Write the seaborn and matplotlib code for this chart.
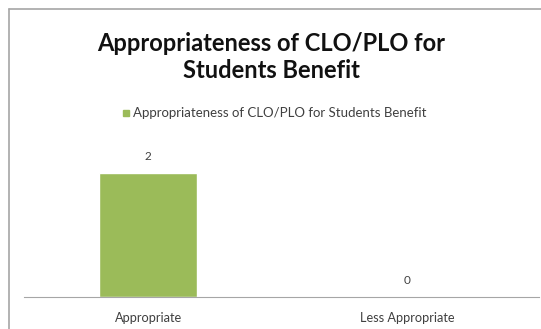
import matplotlib
matplotlib.use("Agg")
import matplotlib.pyplot as plt
import seaborn as sns
import pandas as pd
from matplotlib.lines import Line2D

# data
categories = ["Appropriate", "Less Appropriate"]
counts = [2, 0]
series_name = "Appropriateness of CLO/PLO for Students Benefit"
title = "Appropriateness of CLO/PLO for\nStudents Benefit"

sns.set_theme(style="white")
plt.rcParams['font.family'] = ['Lato', 'DejaVu Sans']

df = pd.DataFrame({"category": categories, "count": counts, "series": series_name})

fig = plt.figure(figsize=(5.41, 3.29), dpi=100)
ax = fig.add_axes([24 / 541, 32 / 329, 515 / 541, 155 / 329])

sns.barplot(data=df, x="category", y="count", hue="series", palette=["#9BBB59"],
            saturation=1, width=0.377, ax=ax, legend=False)

ax.set_xlim(-0.48, 1.51)
ax.set_ylim(0, 2.5)
ax.set_xlabel("")
ax.set_ylabel("")
ax.set_yticks([])
ax.tick_params(axis="x", length=0, pad=11, labelsize=9.2, labelcolor="#404040")
for s in ["top", "right", "left"]:
    ax.spines[s].set_visible(False)
ax.spines["bottom"].set_color("#a6a6a6")
ax.spines["bottom"].set_linewidth(0.8)

# value labels
for i, v in enumerate(counts):
    ax.annotate(str(v), (i, v), xytext=(0, 8), textcoords="offset points",
                ha="center", va="bottom", fontsize=8.5, color="#404040")

# title and legend
fig.text(271 / 541, 1 - 57 / 329, title, ha="center", va="center",
         fontsize=17, fontweight="bold", color="#111111", linespacing=1.2)
fig.patches.append(plt.Rectangle((123 / 541, 1 - 116 / 329), 6 / 541, 6 / 329,
                                 transform=fig.transFigure, color="#9BBB59"))
fig.text(133 / 541, 1 - 113 / 329, series_name, ha="left", va="center",
         fontsize=9.5, color="#404040")

# outer frame of the chart (top and left edges only)
fig.add_artist(Line2D([9 / 541, 1], [1 - 9 / 329, 1 - 9 / 329],
                      transform=fig.transFigure, color="#a6a6a6", lw=1.2))
fig.add_artist(Line2D([9 / 541, 9 / 541], [0, 1 - 9 / 329],
                      transform=fig.transFigure, color="#a6a6a6", lw=1.2))

fig.savefig("out.png", dpi=100)
